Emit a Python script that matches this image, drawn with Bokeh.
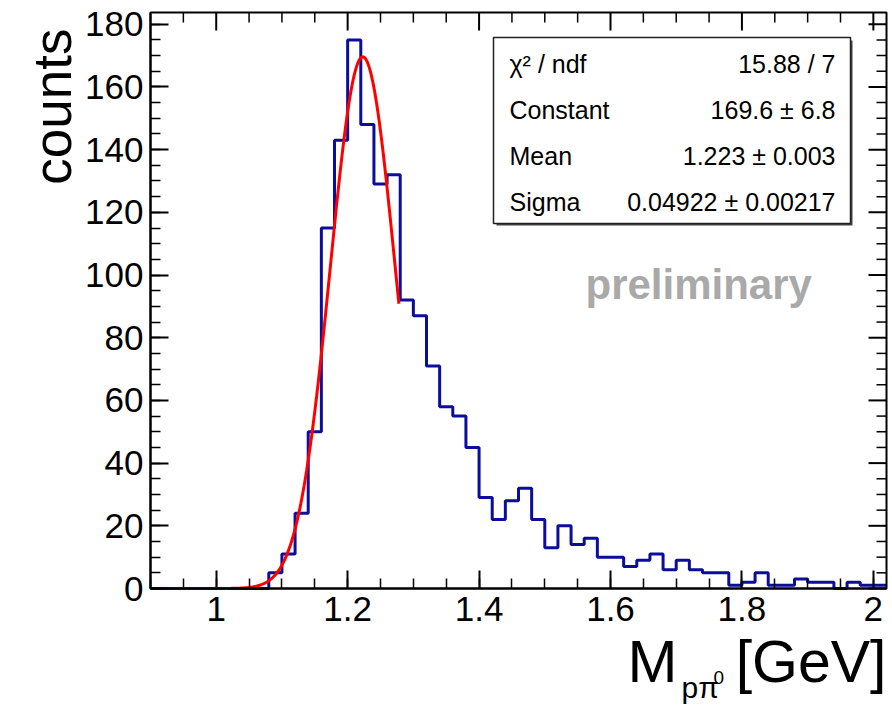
import numpy as np
from bokeh.plotting import figure
from bokeh.models import FixedTicker, LinearAxis, Label, BoxAnnotation, Range1d
from bokeh.embed import file_html
from bokeh.resources import INLINE

# ---------------- data ----------------
bin_lo = 0.90
bin_width = 0.02
counts = [0, 0, 0, 0, 0, 0, 0, 0, 0,
          5, 11, 24, 50, 115, 143, 175, 148, 129, 132,
          92, 87, 71, 58, 55, 45, 29, 22, 28, 32,
          22, 13, 20, 14, 16, 10, 10, 7, 9, 11,
          6, 9, 6, 5, 5, 1, 2, 5, 1, 1,
          3, 2, 2, 0, 2, 1, 1]

# Gaussian fit (parameters as shown in the stats box)
fit_const = 169.6
fit_mean = 1.223
fit_sigma = 0.04922
fit_lo, fit_hi = 0.90, 1.278
stat_names = ["\u03c7\u00b2 / ndf", "Constant", "Mean", "Sigma"]
stat_values = ["15.88 / 7", "169.6 \u00b1 6.8", "1.223 \u00b1 0.003", "0.04922 \u00b1 0.00217"]

x_ticks = [1.0, 1.2, 1.4, 1.6, 1.8, 2.0]
x_tick_labels = ["1", "1.2", "1.4", "1.6", "1.8", "2"]
x_minor = [round(0.9 + 0.05 * i, 2) for i in range(23)]
y_ticks = [0, 20, 40, 60, 80, 100, 120, 140, 160, 180]
y_minor = list(range(0, 185, 5))

# ---------------- layout constants ----------------
W, H = 892, 706
FL, FR, FT, FB = 150, 886, 12, 588          # pixel box of the histogram frame
X0, X1 = bin_lo, bin_lo + bin_width * len(counts)
Y0, Y1 = 0.0, 1.05 * max(counts)
FONT = "Liberation Sans"
MAJ, MIN = 18, 10                            # tick lengths, px
MID = 0.35                                   # baseline -> text middle, in em


def dx(px):
    return X0 + (px - FL) / (FR - FL) * (X1 - X0)


def dy(py):
    return Y0 + (FB - py) / (FB - FT) * (Y1 - Y0)


def lx(npx):
    return npx / (FR - FL) * (X1 - X0)


def ly(npx):
    return npx / (FB - FT) * (Y1 - Y0)


# the plotting frame covers the whole canvas; axes are pinned at the histogram box
p = figure(width=W, height=H, x_range=Range1d(dx(0), dx(W)), y_range=Range1d(dy(H), dy(0)),
           output_backend="svg", toolbar_location=None,
           min_border_left=0, min_border_right=0, min_border_top=0, min_border_bottom=0,
           x_axis_location=None, y_axis_location=None)
p.xgrid.visible = False
p.ygrid.visible = False
p.outline_line_color = None
p.background_fill_color = "white"
p.border_fill_color = "white"


def style_axis(ax):
    ax.axis_line_color = "black"
    ax.axis_line_width = 2
    ax.major_tick_line_color = "black"
    ax.major_tick_line_width = 2
    ax.minor_tick_line_color = "black"
    ax.minor_tick_line_width = 1.5
    ax.major_tick_in = MAJ
    ax.major_tick_out = 0
    ax.minor_tick_in = MIN
    ax.minor_tick_out = 0
    ax.major_label_text_font = FONT
    ax.major_label_text_font_size = "35px"
    ax.major_label_text_color = "black"


xb = LinearAxis(ticker=FixedTicker(ticks=x_ticks, minor_ticks=x_minor),
                fixed_location=Y0, bounds=(X0, X1))
style_axis(xb)
xb.major_label_standoff = 8
xb.major_label_overrides = {t: l for t, l in zip(x_ticks, x_tick_labels)}
p.add_layout(xb, "below")

yl = LinearAxis(ticker=FixedTicker(ticks=y_ticks, minor_ticks=y_minor),
                fixed_location=X0, bounds=(Y0, Y1))
style_axis(yl)
yl.major_label_standoff = 7
p.add_layout(yl, "left")

# frame box (top and right sides)
p.add_layout(BoxAnnotation(left=X0, right=X1, bottom=Y0, top=Y1,
                           fill_color=None, fill_alpha=0,
                           line_color="black", line_width=2, line_alpha=1.0))

# mirrored ticks on top and right edges
x_minor_only = [t for t in x_minor if t not in x_ticks and X0 < t < X1]
y_minor_only = [t for t in y_minor if t not in y_ticks and Y0 < t < Y1]
p.segment(x0=x_ticks, y0=[Y1] * len(x_ticks), x1=x_ticks, y1=[Y1 - ly(MAJ)] * len(x_ticks),
          line_color="black", line_width=2)
p.segment(x0=x_minor_only, y0=[Y1] * len(x_minor_only), x1=x_minor_only,
          y1=[Y1 - ly(MIN)] * len(x_minor_only), line_color="black", line_width=1.5)
p.segment(x0=[X1] * len(y_ticks), y0=y_ticks, x1=[X1 - lx(MAJ)] * len(y_ticks), y1=y_ticks,
          line_color="black", line_width=2)
p.segment(x0=[X1] * len(y_minor_only), y0=y_minor_only,
          x1=[X1 - lx(MIN)] * len(y_minor_only), y1=y_minor_only,
          line_color="black", line_width=1.5)

# histogram outline
edges = bin_lo + bin_width * np.arange(len(counts) + 1)
p.step(x=edges, y=list(counts) + [counts[-1]], mode="after",
       line_color="#0d0d9c", line_width=3)

# gaussian fit curve
xs = np.linspace(fit_lo, fit_hi, 300)
ys = fit_const * np.exp(-0.5 * ((xs - fit_mean) / fit_sigma) ** 2)
p.line(xs, ys, line_color="#ff0000", line_width=3)


def text(s, px, baseline_py, size, align="left", **kw):
    """Place a label whose baseline sits at pixel row baseline_py."""
    p.add_layout(Label(x=dx(px), y=dy(baseline_py - MID * size), text=s,
                       text_align=align, text_baseline="middle", text_font=FONT,
                       text_font_size=f"{size}px", text_color=kw.pop("color", "black"),
                       **kw))


# stats box with a thin shadow
p.add_layout(BoxAnnotation(left=dx(496), right=dx(852), top=dy(40), bottom=dy(225),
                           fill_color="#444444", fill_alpha=1.0, line_color=None))
p.add_layout(BoxAnnotation(left=dx(493), right=dx(850), top=dy(37), bottom=dy(223),
                           fill_color="white", fill_alpha=1.0,
                           line_color="#222222", line_width=1.5, line_alpha=1.0))
row_baseline = [72, 118, 164, 210]
for name, val, by in zip(stat_names, stat_values, row_baseline):
    text(name, 509, by, 25)
    text(val, 835, by, 25, align="right")

# preliminary
text("preliminary", 585, 299, 42, color="#a9a9a9", text_font_style="bold")

# y-axis title (rotated, baseline at x = 71 px, text ending at y = 28 px)
p.add_layout(Label(x=dx(71 - MID * 53), y=dy(28), text="counts", angle=np.pi / 2,
                   text_align="right", text_baseline="middle",
                   text_font=FONT, text_font_size="53px", text_color="black"))

# x-axis title: M_{p pi^0} [GeV]
text("[GeV]", 886, 682, 59, align="right")
text("M", 627, 682, 60)
text("p\u03c0", 681, 697, 30)
text("0", 713, 684, 19)

open("out.html", "w").write(file_html(p, INLINE))
